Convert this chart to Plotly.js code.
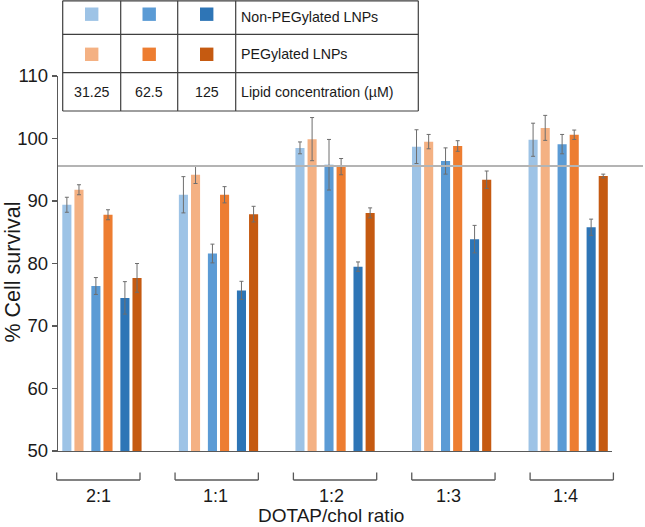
<!DOCTYPE html>
<html>
<head>
<meta charset="utf-8">
<script src="https://cdn.plot.ly/plotly-3.0.1.min.js"></script>
<style>html,body{margin:0;padding:0;background:#fff;}#chart{width:645px;height:527px;}</style>
</head>
<body>
<div id="chart"></div>
<script>
// ---- Data ----
const categories = ['2:1', '1:1', '1:2', '1:3', '1:4'];
const concentrations = ['31.25', '62.5', '125'];

const nonPeg_31 = [89.4, 91.0, 98.5, 98.7, 99.8];
const nonPeg_31_err = [1.2, 2.9, 0.95, 2.7, 2.65];
const peg_31 = [91.8, 94.2, 99.9, 99.5, 101.7];
const peg_31_err = [0.8, 1.4, 3.45, 1.15, 2.0];

const nonPeg_62 = [76.4, 81.6, 95.8, 96.4, 99.1];
const nonPeg_62_err = [1.35, 1.5, 4.05, 2.1, 1.55];
const peg_62 = [87.8, 91.0, 95.5, 98.8, 100.6];
const peg_62_err = [0.8, 1.3, 1.3, 0.85, 0.75];

const nonPeg_125 = [74.5, 75.7, 79.5, 83.9, 85.8];
const nonPeg_125_err = [2.6, 1.45, 0.75, 2.2, 1.3];
const peg_125 = [77.7, 87.9, 88.1, 93.4, 94.0];
const peg_125_err = [2.3, 1.25, 0.8, 1.4, 0.3];

const refLine = 95.6;
const yTicks = [50, 60, 70, 80, 90, 100, 110];
const rowLabels = ['Non-PEGylated LNPs', 'PEGylated LNPs', 'Lipid concentration (µM)'];
const xTitle = 'DOTAP/chol ratio';
const yTitle = '% Cell survival';

// ---- Style ----
const FONT = 'Liberation Sans, Arial, Helvetica, sans-serif';
const blues = ['#9DC3E6', '#5B9BD5', '#2E75B6'];
const oranges = ['#F4B183', '#ED7D31', '#C55A11'];
const axisCol = '#595959';
const errCol = '#6e6e6e';

const W = 645, H = 527;
const M = {l: 58, r: 33, t: 76, b: 76};
const PW = W - M.l - M.r, PH = H - M.t - M.b;
const YR = [50, 110];
const XR = [-0.376, 4.377];
const px2x = px => (px - M.l) / PW;
const px2y = py => (H - M.b - py) / PH;

const barW = 0.078;
const seriesDefs = [
  {y: nonPeg_31, e: nonPeg_31_err, c: blues[0], off: -0.339},
  {y: peg_31, e: peg_31_err, c: oranges[0], off: -0.235},
  {y: nonPeg_62, e: nonPeg_62_err, c: blues[1], off: -0.090},
  {y: peg_62, e: peg_62_err, c: oranges[1], off: 0.014},
  {y: nonPeg_125, e: nonPeg_125_err, c: blues[2], off: 0.159},
  {y: peg_125, e: peg_125_err, c: oranges[2], off: 0.263},
];

const traces = seriesDefs.map(s => ({
  type: 'bar',
  x: categories,
  y: s.y,
  offset: s.off,
  width: barW,
  marker: {color: s.c, line: {width: 0}},
  error_y: {type: 'data', array: s.e, visible: true, color: errCol, thickness: 1, width: 2},
  hoverinfo: 'x+y',
  showlegend: false
}));

const shapes = [];
const annotations = [];

// reference line
const ry = (refLine - YR[0]) / (YR[1] - YR[0]);
shapes.push({type: 'line', xref: 'paper', yref: 'paper', x0: 0, x1: px2x(643), y0: ry, y1: ry,
  line: {color: '#b4b4b4', width: 2}, layer: 'above'});

// brackets under categories
categories.forEach((c, i) => {
  const s = 56.7 + i * 118.35, e = s + 83.3;
  const yb = px2y(480), yt = px2y(472.5);
  const ln = {color: axisCol, width: 1.3};
  shapes.push({type: 'line', xref: 'paper', yref: 'paper', x0: px2x(s), x1: px2x(e), y0: yb, y1: yb, line: ln});
  shapes.push({type: 'line', xref: 'paper', yref: 'paper', x0: px2x(s), x1: px2x(s), y0: yb, y1: yt, line: ln});
  shapes.push({type: 'line', xref: 'paper', yref: 'paper', x0: px2x(e), x1: px2x(e), y0: yb, y1: yt, line: ln});
  annotations.push({xref: 'x', yref: 'paper', x: c, xshift: -3, y: px2y(495.8), text: c, showarrow: false,
    xanchor: 'center', yanchor: 'middle', font: {family: FONT, size: 18, color: '#1a1a1a'}});
});

// axis titles
annotations.push({xref: 'paper', yref: 'paper', x: px2x(330.8), y: px2y(515.5), text: xTitle, showarrow: false,
  xanchor: 'center', yanchor: 'middle', font: {family: FONT, size: 19, color: '#1a1a1a'}});
annotations.push({xref: 'paper', yref: 'paper', x: px2x(12), y: px2y(272.5), text: yTitle, showarrow: false,
  textangle: -90, xanchor: 'center', yanchor: 'middle', font: {family: FONT, size: 21.5, color: '#1a1a1a'}});

// legend table
const colX = [62.7, 120.7, 177.7, 235.7, 418.3];
const rowY = [0.8, 34.3, 72.7, 111];
const tl = {color: '#3f3f3f', width: 1.2};
colX.forEach(x => shapes.push({type: 'line', xref: 'paper', yref: 'paper', x0: px2x(x), x1: px2x(x),
  y0: px2y(rowY[0]), y1: px2y(rowY[3]), line: tl}));
rowY.forEach(y => shapes.push({type: 'line', xref: 'paper', yref: 'paper', x0: px2x(colX[0]), x1: px2x(colX[4]),
  y0: px2y(y), y1: px2y(y), line: tl}));
const sq = 13.4;
const sqRowCenters = [14.2, 54.3];
[blues, oranges].forEach((pal, r) => {
  pal.forEach((col, k) => {
    const cx = (colX[k] + colX[k + 1]) / 2, cy = sqRowCenters[r];
    shapes.push({type: 'rect', xref: 'paper', yref: 'paper',
      x0: px2x(cx - sq / 2), x1: px2x(cx + sq / 2), y0: px2y(cy - sq / 2), y1: px2y(cy + sq / 2),
      fillcolor: col, line: {width: 0}});
  });
});
concentrations.forEach((t, k) => {
  const cx = (colX[k] + colX[k + 1]) / 2;
  annotations.push({xref: 'paper', yref: 'paper', x: px2x(cx), y: px2y(92.3), text: t, showarrow: false,
    xanchor: 'center', yanchor: 'middle', font: {family: FONT, size: 14.2, color: '#1a1a1a'}});
});
const labelY = [17.3, 53.6, 92.3];
rowLabels.forEach((t, r) => {
  annotations.push({xref: 'paper', yref: 'paper', x: px2x(239), y: px2y(labelY[r]), text: t, showarrow: false,
    xanchor: 'left', yanchor: 'middle', font: {family: FONT, size: 14.2, color: '#1a1a1a'}});
});

const layout = {
  width: W, height: H,
  margin: M,
  paper_bgcolor: '#ffffff', plot_bgcolor: '#ffffff',
  barmode: 'overlay',
  showlegend: false,
  font: {family: FONT, color: '#1a1a1a'},
  xaxis: {type: 'category', range: XR, showgrid: false, zeroline: false, showticklabels: false, ticks: '',
    showline: true, linecolor: axisCol, linewidth: 1.3, fixedrange: true},
  yaxis: {range: YR, tickvals: yTicks, ticktext: yTicks.map(String), showgrid: false, zeroline: false,
    showline: true, linecolor: axisCol, linewidth: 1.3, ticks: 'outside', ticklen: 5, tickwidth: 1.3,
    tickcolor: axisCol, tickfont: {family: FONT, size: 18.5, color: '#1a1a1a'}, fixedrange: true},
  shapes: shapes,
  annotations: annotations
};

Plotly.newPlot('chart', traces, layout, {displayModeBar: false, staticPlot: true});
</script>
</body>
</html>
